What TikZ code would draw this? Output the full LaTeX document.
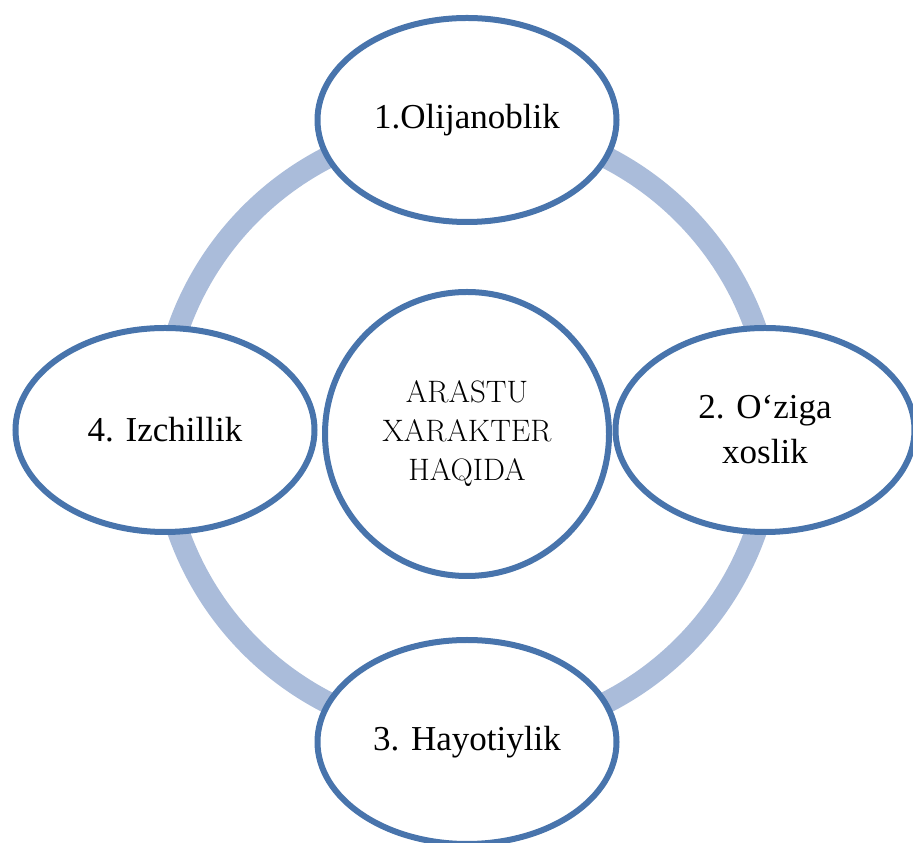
\documentclass[tikz,border=0pt]{standalone}
\usepackage{fontspec}
\usepackage{tikz}
\usetikzlibrary{positioning,shapes.geometric,shadows}
\newfontfamily\timesfont{Liberation Serif}
\newfontfamily\hubfont{Latin Modern Roman}
\definecolor{ringBlue}{RGB}{170, 188, 218}
\definecolor{edgeBlue}{RGB}{72, 116, 172}
\definecolor{inkBlack}{RGB}{0, 0, 0}
\tikzset{
    trait/.style={ellipse, draw=edgeBlue, line width=6pt, fill=white, inner sep=0pt,
        minimum width=299pt, minimum height=204pt, align=center,
        drop shadow={opacity=0.18, shadow xshift=1pt, shadow yshift=-2.5pt},
        font=\timesfont\fontsize{35}{45}\selectfont, text=inkBlack},
    hub/.style={circle, draw=edgeBlue, line width=6pt, fill=white, inner sep=0pt,
        minimum size=284pt, align=center,
        drop shadow={opacity=0.18, shadow xshift=1pt, shadow yshift=-2.5pt},
        font=\hubfont\fontsize{31}{39}\selectfont, text=inkBlack},
    ring/.style={draw=ringBlue, line width=22pt}
}

\begin{document}
\begin{tikzpicture}[x=1pt, y=1pt]
    \useasboundingbox (0,0) rectangle (913,843);
    \coordinate (mid) at (467,413);
    % ring behind everything
    \draw[ring] (mid) circle (306);
    \node[hub] (arastu) at (467,409) {ARASTU\\XARAKTER\\HAQIDA};
    \node[trait] (oli) at (467,723) {1.Olijanoblik};
    \node[trait] (ozi) at (765,413) {2. O‘ziga\\xoslik};
    \node[trait] (hay) at (467,101) {3. Hayotiylik};
    \node[trait] (izc) at (165,413) {4. Izchillik};
\end{tikzpicture}
\end{document}
